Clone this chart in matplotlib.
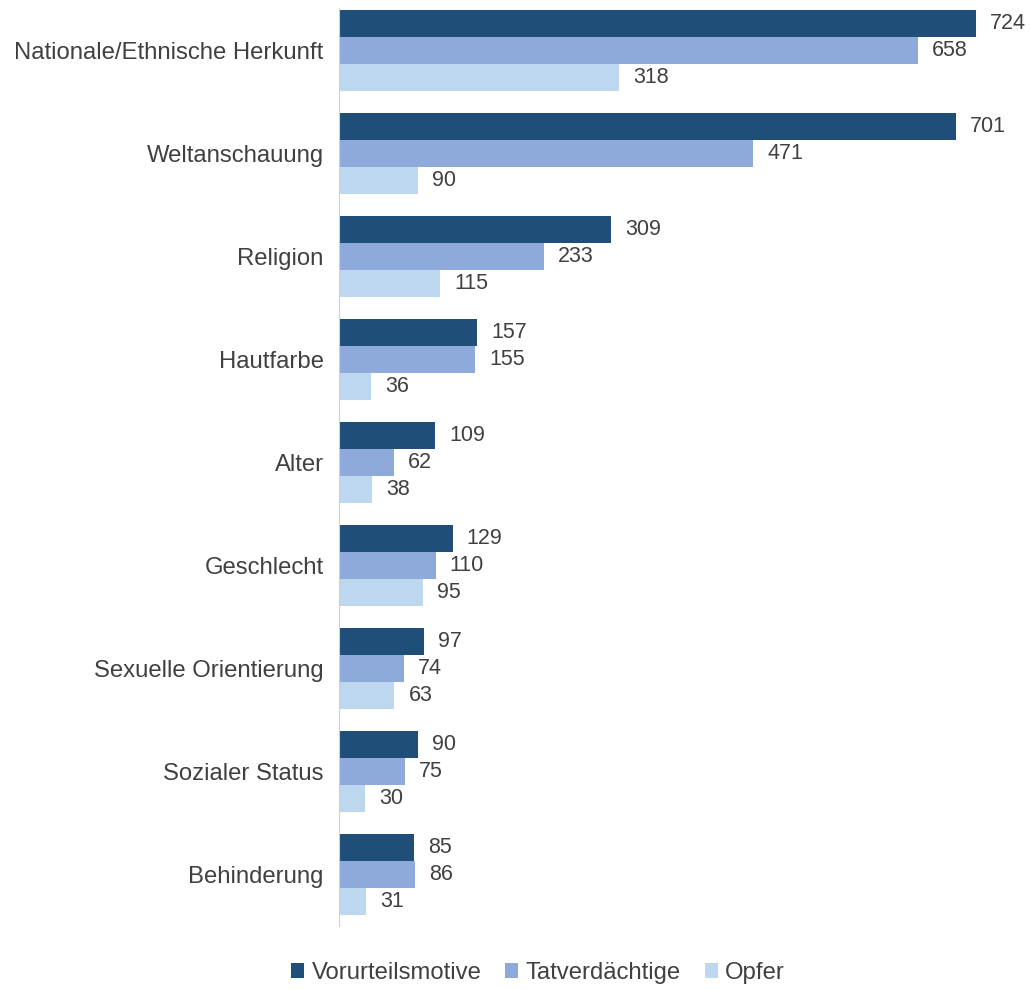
import numpy as np
import matplotlib.pyplot as plt

plt.rcParams['font.family'] = ['Liberation Sans', 'DejaVu Sans']

categories = ["Nationale/Ethnische Herkunft", "Weltanschauung", "Religion", "Hautfarbe",
              "Alter", "Geschlecht", "Sexuelle Orientierung", "Sozialer Status", "Behinderung"]
vorurteilsmotive = [724, 701, 309, 157, 109, 129, 97, 90, 85]
tatverdaechtige = [658, 471, 233, 155, 62, 110, 74, 75, 86]
opfer = [318, 90, 115, 36, 38, 95, 63, 30, 31]

series = [
    ("Vorurteilsmotive", vorurteilsmotive, "#1f4e79"),
    ("Tatverdächtige", tatverdaechtige, "#8eaadb"),
    ("Opfer", opfer, "#bdd7ee"),
]

text_color = "#404040"

fig = plt.figure(figsize=(10.3, 9.9), dpi=100)
ax = fig.add_axes([339 / 1030, 1 - 926 / 990, (1020 - 339) / 1030, (926 - 8) / 990])

y = np.arange(len(categories))
h = 0.262
for i, (name, vals, col) in enumerate(series):
    pos = y + (i - 1) * h
    ax.barh(pos, vals, height=h, color=col, label=name)
    for p, v in zip(pos, vals):
        ax.text(v + 16, p, str(v), va="center", ha="left", fontsize=15.5, color=text_color)

ax.set_xlim(0, 774)
ax.set_ylim(8.5, -0.413)
ax.set_yticks(y)
ax.set_yticklabels(categories, fontsize=17.2, color=text_color)
ax.tick_params(axis="y", length=0, pad=11)
ax.set_xticks([])
for s in ["top", "right", "bottom"]:
    ax.spines[s].set_visible(False)
ax.spines["left"].set_color("#d0d0d0")

fig.legend(loc="center", bbox_to_anchor=(538 / 1030, 1 - 973 / 990), ncol=3, frameon=False,
           fontsize=17.2, handlelength=0.55, handleheight=0.55, handletextpad=0.3,
           columnspacing=1.0, labelcolor=text_color)

fig.savefig("out.png", dpi=100)
